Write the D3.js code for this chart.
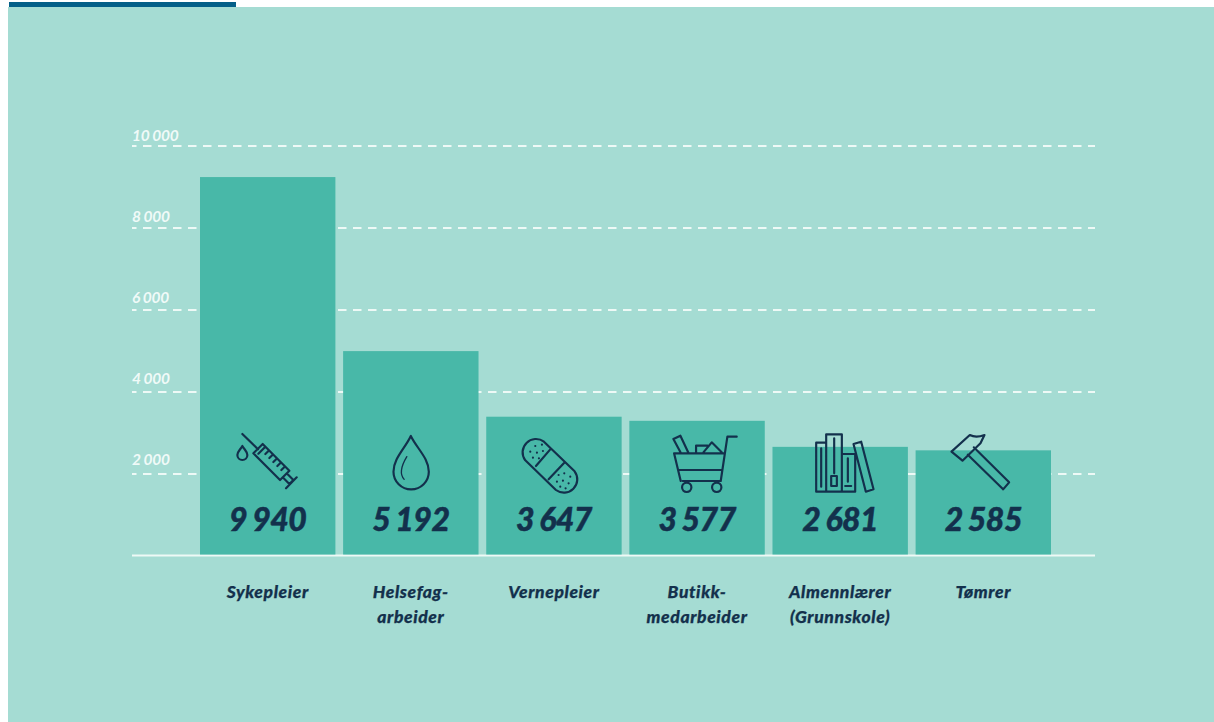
<!DOCTYPE html>
<html><head><meta charset="utf-8">
<script src="https://cdn.jsdelivr.net/npm/d3@7/dist/d3.min.js"></script>
<style>html,body{margin:0;padding:0;background:#fff;overflow:hidden}svg{display:block}</style>
</head><body><svg id="c" width="1214" height="722"></svg>
<script>
const categories = ["Sykepleier","Helsefag-|arbeider","Vernepleier","Butikk-|medarbeider","Almennlærer|(Grunnskole)","Tømrer"];
const printedValues = ["9 940","5 192","3 647","3 577","2 681","2 585"];
const barHeights = [9230,4985,3385,3285,2650,2565];
const yTicks = [2000,4000,6000,8000,10000];
const yTickLabels = ["2 000","4 000","6 000","8 000","10 000"];
const iconNames = ["syringe","drop","plaster","cart","books","hammer"];

const NAVY="#13304c", BG="#a5dcd3", BAR="#48b8a8", LINE="#eef9f6";
const FONT="Lato, 'Noto Sans', sans-serif";
const svg=d3.select("#c");
svg.append("rect").attr("x",8).attr("y",7).attr("width",1206).attr("height",715).attr("fill",BG);
svg.append("rect").attr("x",9).attr("y",2).attr("width",227).attr("height",5).attr("fill","#045f88");

const y=d3.scaleLinear().domain([0,10000]).range([555.5,145.5]);
const labelY=d3.scaleLinear().domain([0,10000]).range([545,140]);
const x=d3.scaleBand().domain(categories).range([200,1051]).paddingInner(0.054);

// gridlines + tick labels
const axis=d3.axisLeft(y).tickValues(yTicks).tickSize(-963).tickFormat((d,i)=>yTickLabels[i]);
const ag=svg.append("g").attr("transform","translate(132,0)").call(axis);
ag.select(".domain").remove();
ag.selectAll(".tick line").attr("stroke",LINE).attr("stroke-width",2)
  .attr("stroke-dasharray","8.5 6.5").attr("stroke-dashoffset",4);
ag.selectAll(".tick text").attr("x",0).attr("dy",null).attr("y",d=>labelY(d)-y(d)).attr("text-anchor","start")
  .attr("fill","#f0faf8").attr("font-family",FONT).attr("font-style","italic").attr("font-weight",700).attr("font-size",15.5)
  .attr("word-spacing",-0.6).attr("letter-spacing",-0.2);

// baseline
svg.append("line").attr("x1",132).attr("x2",1095).attr("y1",y(0)).attr("y2",y(0)).attr("stroke",LINE).attr("stroke-width",2);

// bars
svg.append("g").selectAll("rect").data(categories).join("rect")
  .attr("x",d=>x(d)).attr("width",x.bandwidth())
  .attr("y",(d,i)=>y(barHeights[i])).attr("height",(d,i)=>y(0)-1-y(barHeights[i])).attr("fill",BAR);

// icons: path outlines drawn on a 3x grid, anchored on each bar's centre
const icons={
 syringe:{ax:233,d:"M157,42L204,88M218,72L298,152L270,180L190,100ZM226,80L205,101M236,92L226,102M248,104L238,114M260,116L250,126M272,128L262,138M284,140L274,150M290,160L310,180L298,192L278,172M320,172L288,205M157,78C150,90 142,95 142,105A15,15 0 0 0 172,105C172,95 164,90 157,78Z",thin:""},
 drop:{ax:662,d:"M662,48C645,85 610,115 610,155A53,53 0 0 0 716,155C716,115 680,85 662,48Z",thin:"M650,110C635,135 625,160 642,178"},
 plaster:{ax:191,d:"M161,65L253,154A40,40 0 0 1 197,210L105,121A40,40 0 0 1 161,65ZM180,88L137,138M222,128L175,178",thin:"",dots:"M135,78h0M155,74h0M120,95h0M140,98h0M158,93h0M128,113h0M146,115h0M205,165h0M222,160h0M240,170h0M200,185h0M218,182h0M235,190h0M210,200h0M226,205h0"},
 cart:{ax:621,d:"M740,50H712L692,183H578M552,100H702M552,100L572,183M565,150H696M550,57L571,47L595,98M550,57L572,98M618,98V77H652M640,97L665,67L695,97",thin:"",circles:[[590,202,14],[680,202,14]]},
 books:{ax:210,d:"M138,68H168V215H138ZM168,43H215V215H168ZM215,102H255V215H215ZM250,72L273,65L310,208L287,215ZM153,85V200M192,55V160M183,168H200V198H183ZM233,115V185M225,198H243",thin:""},
 hammer:{ax:640.5,d:"M545,95L600,45C615,53 628,51 644,45L632,70L578,122ZM612,82L718,187L700,208L594,104",thin:""}
};
const ig=svg.append("g").selectAll("g").data(iconNames).join("g")
  .attr("transform",(n,i)=>`translate(${x(categories[i])+x.bandwidth()/2-icons[n].ax/3},420) scale(${1/3})`)
  .attr("fill","none").attr("stroke",NAVY).attr("stroke-linejoin","round").attr("stroke-linecap","round");
ig.append("path").attr("d",n=>icons[n].d).attr("stroke-width",6.5);
ig.append("path").attr("d",n=>icons[n].thin).attr("stroke-width",4);
ig.append("path").attr("d",n=>icons[n].dots||"").attr("stroke-width",6.5);
ig.each(function(n){d3.select(this).selectAll("circle").data(icons[n].circles||[]).join("circle")
  .attr("cx",c=>c[0]).attr("cy",c=>c[1]).attr("r",c=>c[2]).attr("stroke-width",6.5);});

// printed values
svg.append("g").selectAll("text").data(printedValues).join("text")
  .attr("x",(d,i)=>x(categories[i])+x.bandwidth()/2).attr("y",531).attr("text-anchor","middle")
  .attr("font-family",FONT).attr("font-style","italic").attr("font-weight",900).attr("font-size",32)
  .attr("word-spacing",-1.2).attr("letter-spacing",-0.5).attr("stroke",NAVY).attr("stroke-width",0.5).attr("fill",NAVY).text(d=>d);

// category labels
const lab=svg.append("g").selectAll("text").data(categories).join("text")
  .attr("text-anchor","middle").attr("font-family",FONT).attr("font-style","italic").attr("font-weight",900).attr("font-size",17.5)
  .attr("letter-spacing",0.6).attr("stroke",NAVY).attr("stroke-width",0.25).attr("fill",NAVY);
lab.each(function(d){const t=d3.select(this),cx=x(d)+x.bandwidth()/2;
  d.split("|").forEach((s,k)=>t.append("tspan").attr("x",cx).attr("y",598+k*25).text(s));});
</script></body></html>
